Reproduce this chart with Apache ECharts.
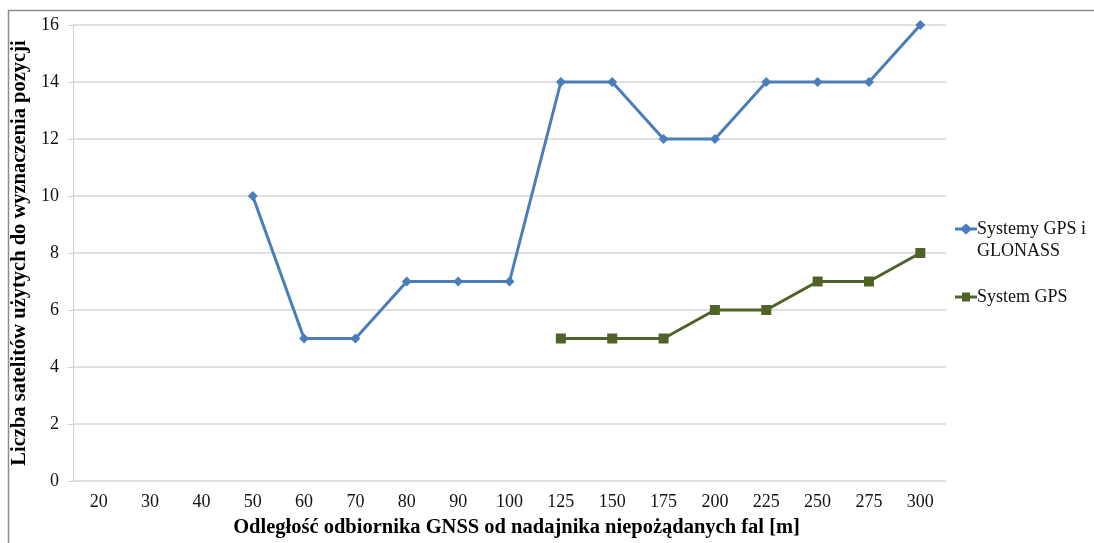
<!DOCTYPE html>
<html>
<head>
<meta charset="utf-8">
<script src="https://cdn.jsdelivr.net/npm/echarts@6/dist/echarts.min.js"></script>
<style>
  html, body { margin: 0; padding: 0; background: #fff; }
  #chart { width: 1094px; height: 543px; }
</style>
</head>
<body>
<div id="chart"></div>
<script>
// Distance of the GNSS receiver from the jamming transmitter [m]
const distances = ['20', '30', '40', '50', '60', '70', '80', '90', '100', '125', '150', '175', '200', '225', '250', '275', '300'];
// Satellites used for the position fix (null = no fix)
const gpsGlonass = [null, null, null, 10, 5, 5, 7, 7, 7, 14, 14, 12, 12, 14, 14, 14, 16];
const gpsOnly = [null, null, null, null, null, null, null, null, null, 5, 5, 5, 6, 6, 7, 7, 8];
const seriesNames = ['Systemy GPS i\nGLONASS', 'System GPS'];

const serif = '"Liberation Serif", "Times New Roman", serif';
// Legend icons live in a 22x44 box (the two leading moveTos pin the box);
// the two-line entry gets its marker level with the first text line.
const diamondIcon = 'path://M0,0 M22,44 M0,9.6 L6.5,9.6 L11,5.5 L15.5,9.6 L22,9.6 L22,12.4 L15.5,12.4 L11,16.5 L6.5,12.4 L0,12.4 Z';
const squareIcon = 'path://M0,0 M22,44 M0,20.6 L7,20.6 L7,17.5 L15,17.5 L15,20.6 L22,20.6 L22,23.4 L15,23.4 L15,26.5 L7,26.5 L7,23.4 L0,23.4 Z';

const chart = echarts.init(document.getElementById('chart'));

chart.setOption({
  animation: false,
  backgroundColor: '#fff',
  textStyle: { fontFamily: serif },
  graphic: [{
    type: 'rect',
    shape: { x: 8.5, y: 10.5, width: 1100, height: 540 },
    style: { fill: 'none', stroke: '#8c8c8c', lineWidth: 1.5 },
    silent: true,
    z: 100
  }],
  grid: { left: 73, right: 148, top: 25, bottom: 62, containLabel: false, outerBoundsMode: 'none' },
  legend: {
    orient: 'vertical',
    left: 955,
    top: 218,
    padding: 0,
    itemGap: 13,
    itemWidth: 22,
    itemHeight: 44,
    textStyle: { fontFamily: serif, fontSize: 18, color: '#111', lineHeight: 22, padding: [0, 0, 0, -5] },
    data: [
      { name: seriesNames[0], icon: diamondIcon },
      { name: seriesNames[1], icon: squareIcon }
    ]
  },
  xAxis: {
    type: 'category',
    data: distances,
    boundaryGap: true,
    name: 'Odległość odbiornika GNSS od nadajnika niepożądanych fal [m]',
    nameLocation: 'middle',
    nameGap: 36,
    nameTextStyle: { fontFamily: serif, fontSize: 20.5, fontWeight: 'bold', color: '#000', padding: [0, 0, 0, 14] },
    axisLine: { show: false },
    axisTick: { show: false },
    axisLabel: { fontFamily: serif, fontSize: 18, color: '#111', margin: 12 }
  },
  yAxis: {
    type: 'value',
    min: 0,
    max: 16,
    interval: 2,
    name: 'Liczba satelitów użytych do wyznaczenia pozycji',
    nameLocation: 'middle',
    nameGap: 36,
    nameTextStyle: { fontFamily: serif, fontSize: 20.5, fontWeight: 'bold', color: '#000' },
    axisLine: { show: true, lineStyle: { color: '#d0d0d0', width: 1 } },
    axisTick: { show: true, length: 5, lineStyle: { color: '#d0d0d0' } },
    axisLabel: { fontFamily: serif, fontSize: 18, color: '#111', margin: 14 },
    splitLine: { lineStyle: { color: '#d6d6d6', width: 1.5 } }
  },
  series: [
    {
      name: seriesNames[0],
      type: 'line',
      data: gpsGlonass,
      connectNulls: false,
      symbol: 'diamond',
      symbolSize: 10,
      lineStyle: { color: '#4a7ebb', width: 3 },
      itemStyle: { color: '#4a7ebb' }
    },
    {
      name: seriesNames[1],
      type: 'line',
      data: gpsOnly,
      connectNulls: false,
      symbol: 'rect',
      symbolSize: 10,
      lineStyle: { color: '#4f6228', width: 3 },
      itemStyle: { color: '#4f6228' }
    }
  ]
});
</script>
</body>
</html>
